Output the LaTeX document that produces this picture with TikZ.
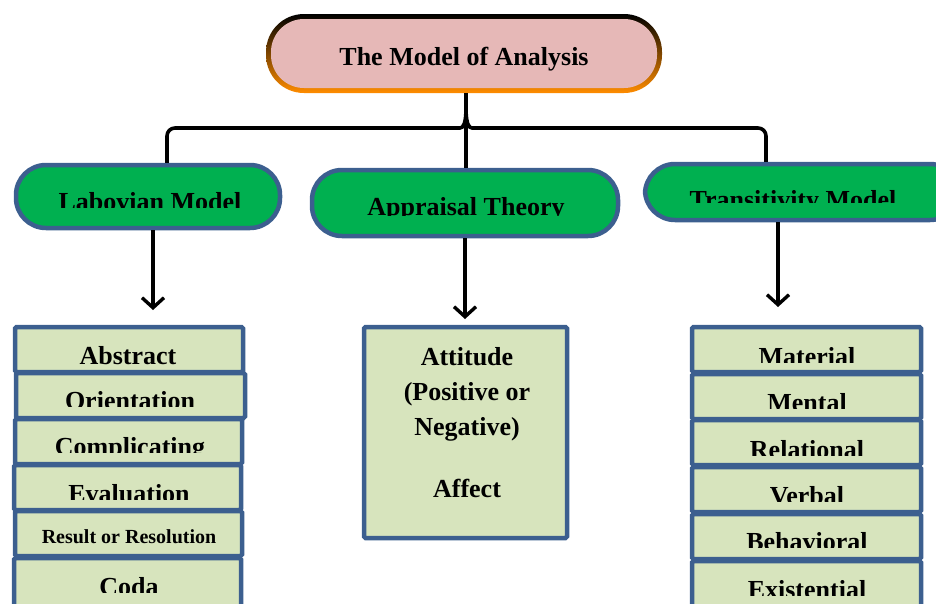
\documentclass[tikz,border=0pt]{standalone}
\usepackage{fontspec}
\setmainfont{Liberation Serif}
\usetikzlibrary{arrows.meta,calc}
\definecolor{pillgreen}{HTML}{00B050}
\definecolor{bordblue}{HTML}{3C5F8F}
\definecolor{boxfill}{HTML}{D7E4BD}
\definecolor{toppink}{HTML}{E6B8B7}
\definecolor{midpurple}{HTML}{6A0A5A}
\tikzset{
  pill/.style={draw=bordblue, fill=pillgreen, line width=4.5pt, rounded corners=30pt, inner sep=0pt},
  lbox/.style={draw=bordblue, fill=boxfill, line width=4.5pt, rounded corners=1.5pt, inner sep=0pt},
  lbl/.style={anchor=base, inner sep=0pt, font=\fontsize{26}{30}\selectfont\bfseries},
  smalllbl/.style={anchor=base, inner sep=0pt, font=\fontsize{20}{24}\selectfont\bfseries},
  conn/.style={draw=black, line width=3.6pt},
  arr/.style={draw=black, line width=3.4pt, -{Straight Barb[length=10pt,width=22pt,line width=3.4pt]}},
}
\begin{document}
\begin{tikzpicture}[x=1pt,y=-1pt]
\useasboundingbox (0,0) rectangle (936,603);
\clip (0,0) rectangle (936,603);

% ---- top node ----
\shade[top color=black, middle color=midpurple, bottom color=orange!90!yellow, rounded corners=38pt] (266,14) rectangle (662,93);
\fill[toppink, rounded corners=33pt] (271,19) rectangle (657,88);
\node[minimum width=396pt, minimum height=79pt, inner sep=0pt] (top) at (464,53.5) {};
\node[lbl] (toptxt) at (464,65) {The Model of Analysis};

% ---- second level pills ----
\node[pill, minimum width=264pt, minimum height=63pt] (lab) at (148,196.5) {};
\begin{scope}\clip (20,170) rectangle (276,207);
\node[lbl] (labtxt) at (150,210) {Labovian Model};
\end{scope}

\node[pill, minimum width=306pt, minimum height=66pt] (app) at (465,203) {};
\begin{scope}\clip (316,175) rectangle (614,215);
\node[lbl] (apptxt) at (466,215) {Appraisal Theory};
\end{scope}

\node[pill, minimum width=315pt, minimum height=56pt] (tra) at (802.5,192) {};
\begin{scope}\clip (650,168) rectangle (936,202);
\node[lbl] (tratxt) at (793,208) {Transitivity Model};
\end{scope}

% ---- connectors from top ----
\coordinate (bl) at (167,128);
\coordinate (br) at (766,128);
\coordinate (cusp) at (466,108);
\draw[conn] (top.south -| cusp) -- (app.north -| cusp);
\draw[conn, rounded corners=8pt] (lab.north -| bl) -- (bl) -- (452,128) .. controls (463,128) and (466,124) .. (cusp);
\draw[conn, rounded corners=8pt] (tra.north -| br) -- (br) -- (480,128) .. controls (469,128) and (466,124) .. (cusp);

% ---- arrows down ----
\coordinate (la) at (153,310);
\coordinate (aa) at (465,319);
\coordinate (ta) at (778,307);
\draw[arr] (lab.south -| la) -- (la);
\draw[arr] (app.south -| aa) -- (aa);
\draw[arr] (tra.south -| ta) -- (ta);

% ---- left stack ----
\node[lbox, minimum width=228pt, minimum height=45pt] (abs) at (129,349.5) {};
\node[lbl] (abstxt) at (128,364) {Abstract};

\node[lbox, minimum width=229pt, minimum height=45pt] (ori) at (130.5,395.5) {};
\begin{scope}\clip (18,376) rectangle (243,406);
\node[lbl] (oritxt) at (130,409) {Orientation};
\end{scope}

\node[lbox, minimum width=227pt, minimum height=45pt] (com) at (128.5,441.5) {};
\begin{scope}\clip (18,422) rectangle (240,452);
\node[lbl] (comtxt) at (130,455) {Complicating};
\end{scope}

\node[lbox, minimum width=227pt, minimum height=45pt] (eva) at (127.5,487.5) {};
\begin{scope}\clip (17,468) rectangle (239,499);
\node[lbl] (evatxt) at (129,502) {Evaluation};
\end{scope}

\node[lbox, minimum width=227pt, minimum height=45pt] (res) at (128.5,533.5) {};
\node[smalllbl] (restxt) at (129,543) {Result or Resolution};

\node[lbox, minimum width=227pt, minimum height=52pt] (cod) at (127.5,584) {};
\begin{scope}\clip (17,561) rectangle (239,592);
\node[lbl] (codtxt) at (129,595) {Coda};
\end{scope}

% ---- middle box ----
\node[lbox, minimum width=203pt, minimum height=211pt] (att) at (465.5,432.5) {};
\node[lbl] (att1) at (467,365) {Attitude};
\node[lbl] (att2) at (467,400) {(Positive or};
\node[lbl] (att3) at (467,435) {Negative)};
\node[lbl] (att4) at (467,497) {Affect};

% ---- right stack ----
\node[lbox, minimum width=229pt, minimum height=45pt] (mat) at (806.5,349.5) {};
\begin{scope}\clip (695,330) rectangle (918,362);
\node[lbl] (mattxt) at (807,365) {Material};
\end{scope}

\node[lbox, minimum width=229pt, minimum height=45pt] (men) at (806.5,396.5) {};
\begin{scope}\clip (695,377) rectangle (918,408);
\node[lbl] (mentxt) at (807,411) {Mental};
\end{scope}

\node[lbox, minimum width=229pt, minimum height=45pt] (rel) at (806.5,442.5) {};
\begin{scope}\clip (695,423) rectangle (918,455);
\node[lbl] (reltxt) at (807,458) {Relational};
\end{scope}

\node[lbox, minimum width=229pt, minimum height=45pt] (ver) at (806.5,489.5) {};
\begin{scope}\clip (695,470) rectangle (918,501);
\node[lbl] (vertxt) at (807,504) {Verbal};
\end{scope}

\node[lbox, minimum width=229pt, minimum height=45pt] (beh) at (806.5,536.5) {};
\begin{scope}\clip (695,517) rectangle (918,547);
\node[lbl] (behtxt) at (807,550) {Behavioral};
\end{scope}

\node[lbox, minimum width=229pt, minimum height=52pt] (exi) at (806.5,587) {};
\begin{scope}\clip (695,564) rectangle (918,595);
\node[lbl] (exitxt) at (807,598) {Existential};
\end{scope}
\end{tikzpicture}
\end{document}
